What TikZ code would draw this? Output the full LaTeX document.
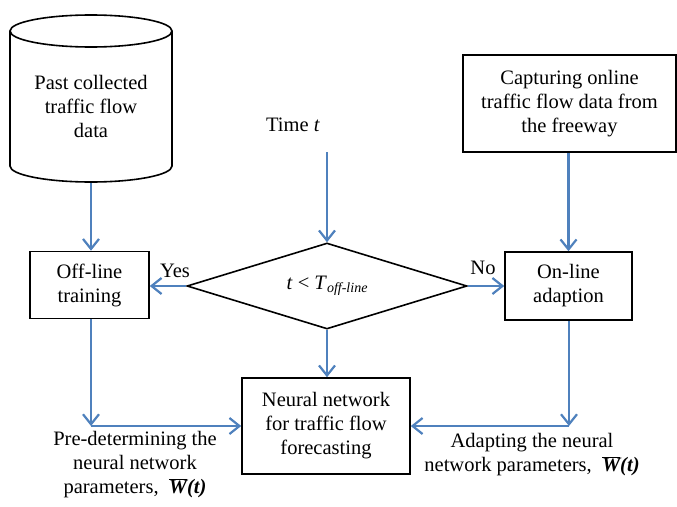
\documentclass[tikz,border=0pt]{standalone}
\usepackage{fontspec}
\setmainfont{Liberation Serif}
\usetikzlibrary{arrows.meta,shapes.geometric}
\definecolor{flowblue}{RGB}{79,129,189}
\newcommand{\wbar}{\textbf{\textit{$\overline{\mbox{\bfseries\itshape W}}$(t)}}}
\begin{document}
\begin{tikzpicture}[x=1pt,y=-1pt,
  font=\fontsize{20.5}{24}\selectfont,
  box/.style={draw, line width=1.6pt, align=center, inner sep=0pt},
  lbl/.style={align=center, inner sep=0pt},
  flow/.style={draw=flowblue, line width=2.2pt, -{Straight Barb[length=10pt,width=16pt]}}]
\useasboundingbox (0,0) rectangle (677,506);

% data store drawn as a cylinder
\draw[line width=1.6pt] (91,31) ellipse [x radius=81, y radius=16];
\draw[line width=1.6pt] (10,31) -- (10,166)
  arc[start angle=180, end angle=0, x radius=81, y radius=16] -- (172,31);
\node[lbl] (pastdata) at (91,106) {Past collected\\traffic flow\\data};
\coordinate (cylbot) at (91,183);

% process boxes
\node[box, minimum width=119pt, minimum height=67pt] (offline) at (89.5,285) {Off-line\\training};
\node[box, minimum width=213pt, minimum height=97pt] (capture) at (569.5,103.5) {Capturing online\\traffic flow data from\\the freeway};
\node[box, minimum width=127pt, minimum height=68pt] (online) at (568.5,286) {On-line\\adaption};
\node[box, minimum width=168pt, minimum height=96pt] (nn) at (326,426) {Neural network\\for traffic flow\\forecasting};

% decision
\node[draw, diamond, line width=1.6pt, aspect=3.3, inner sep=0pt,
      minimum width=280pt, minimum height=86pt] (cond) at (327,286)
  {\textit{t} < \textit{T}\raisebox{-0.35ex}{\fontsize{14}{16}\selectfont\textit{off-line}}};

\node[lbl] (time) at (293,125) {Time \textit{t}};
\coordinate (tstart) at (327,152);
\node[lbl] (yes) at (175,271) {Yes};
\node[lbl] (no) at (483,268) {No};

% parameter labels
\node[lbl] (prelbl) at (135,465) {Pre-determining the\\neural network\\parameters,\ \ \wbar};
\node[lbl] (adaptlbl) at (532,455) {Adapting the neural\\network parameters,\ \ \wbar};

% connectors
\draw[flow] (cylbot) -- (cylbot |- offline.north);
\draw[flow] (tstart) -- (cond.north);
\draw[flow] (cond.west) -- (cond.west -| offline.east);
\draw[flow] (cond.east) -- (cond.east -| online.west);
\draw[flow] (capture.south -| online.north) -- (online.north);
\draw[flow] (cond.south) -- (cond.south |- nn.north);

\coordinate (lcorner) at (91,426);
\coordinate (rcorner) at (569,426);
\draw[flow] (offline.south -| lcorner) -- (lcorner);
\draw[flow] (lcorner) -- (nn.west);
\draw[flow] (online.south -| rcorner) -- (rcorner);
\draw[flow] (rcorner) -- (nn.east);
\end{tikzpicture}
\end{document}
